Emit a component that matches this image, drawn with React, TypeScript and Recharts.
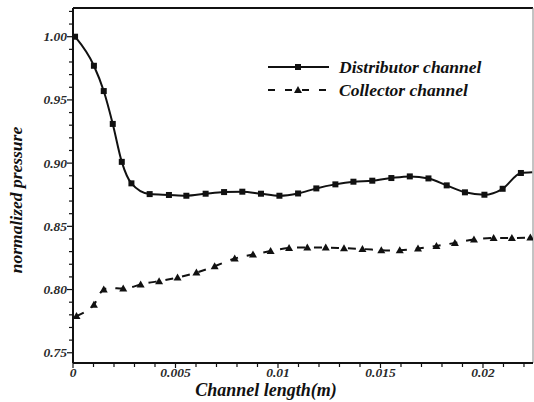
import { LineChart, Line, XAxis, YAxis, Legend, Label, ReferenceLine } from "recharts"

// channel position (m) and normalized pressure along each channel
const distributorX = [
  0.0001, 0.00102, 0.0015, 0.00194, 0.00238, 0.00285, 0.00374, 0.00468, 0.00553,
  0.00647, 0.00737, 0.00826, 0.00917, 0.01007, 0.01098, 0.01187, 0.0128, 0.01368,
  0.0146, 0.01553, 0.01643, 0.01734, 0.01823, 0.01912, 0.02007, 0.02096, 0.02185, 0.0224,
]
const distributorP = [
  1.0, 0.977, 0.957, 0.931, 0.901, 0.884, 0.8755, 0.8748, 0.8742,
  0.8758, 0.8771, 0.8774, 0.8758, 0.8742, 0.876, 0.88, 0.8832, 0.8853,
  0.8861, 0.8882, 0.8895, 0.8879, 0.8824, 0.8769, 0.875, 0.8797, 0.8922, 0.8928,
]
const collectorX = [
  0.00017, 0.00102, 0.0015, 0.00245, 0.0033, 0.0042, 0.0051, 0.00602, 0.00691,
  0.00789, 0.00878, 0.00964, 0.01054, 0.01143, 0.01233, 0.01322, 0.01412, 0.01504,
  0.01594, 0.01683, 0.01773, 0.01863, 0.01956, 0.02052, 0.02141, 0.02231,
]
const collectorP = [
  0.779, 0.788, 0.8, 0.8008, 0.804, 0.8066, 0.8095, 0.8134, 0.8184,
  0.8245, 0.8277, 0.8305, 0.8329, 0.8332, 0.8332, 0.8327, 0.8321, 0.8311,
  0.8311, 0.8324, 0.8345, 0.8369, 0.8396, 0.8408, 0.8408, 0.8411,
]

const xTicks = [
  0, 0.001, 0.002, 0.003, 0.004, 0.005, 0.006, 0.007, 0.008, 0.009, 0.01, 0.011,
  0.012, 0.013, 0.014, 0.015, 0.016, 0.017, 0.018, 0.019, 0.02, 0.021, 0.022,
]
const xLabels = ["0", "0.005", "0.01", "0.015", "0.02"]
const yTicks = [
  0.75, 0.76, 0.77, 0.78, 0.79, 0.8, 0.81, 0.82, 0.83, 0.84, 0.85, 0.86, 0.87, 0.88,
  0.89, 0.9, 0.91, 0.92, 0.93, 0.94, 0.95, 0.96, 0.97, 0.98, 0.99, 1.0, 1.01, 1.02,
]
const yLabels = ["0.75", "0.80", "0.85", "0.90", "0.95", "1.00"]

const distributor = distributorX.map((x, i) => ({ x, p: distributorP[i] }))
const collector = collectorX.map((x, i) => ({ x, p: collectorP[i] }))

const W = 534
const H = 402
const LEFT = 73
const BOTTOM = 363
const X_MAX = 0.02244
const Y_MIN = 0.7419
const Y_MAX = 1.0227
const FONT = '"Liberation Serif", "DejaVu Serif", serif'
const INK = "#111"

const labelFor = (v: number, labels: string[]) =>
  labels.find((l) => Math.abs(parseFloat(l) - v) < 1e-9)

function YTick({ y, payload }: any) {
  const text = labelFor(payload.value, yLabels)
  return (
    <g>
      <line x1={LEFT - (text ? 6 : 4)} x2={LEFT} y1={y} y2={y} stroke={INK} strokeWidth={1.2} />
      {text && (
        <text x={LEFT - 6} y={y} dy={4.5} textAnchor="end" fontFamily={FONT}
          fontStyle="italic" fontWeight="bold" fontSize={13.5} fill="#2a2a2a">
          {text}
        </text>
      )}
    </g>
  )
}

function XTick({ x, payload }: any) {
  const text = labelFor(payload.value, xLabels)
  return (
    <g>
      <line x1={x} x2={x} y1={BOTTOM} y2={BOTTOM + (text ? 5 : 4)} stroke={INK} strokeWidth={1.2} />
      {text && (
        <text x={x} y={BOTTOM + 14} textAnchor="middle" fontFamily={FONT}
          fontStyle="italic" fontWeight="bold" fontSize={13.5} fill="#2a2a2a">
          {text}
        </text>
      )}
    </g>
  )
}

function Square({ cx, cy, size = 6 }: { cx: number; cy: number; size?: number }) {
  return <rect x={cx - size / 2} y={cy - size / 2} width={size} height={size} fill={INK} />
}

function Triangle({ cx, cy }: { cx: number; cy: number }) {
  return <polygon points={`${cx - 4},${cy + 3} ${cx + 4},${cy + 3} ${cx},${cy - 4}`} fill={INK} />
}

// last distributor entry only continues the curve to the frame, no marker
const distributorDot = (props: any) => {
  const { cx, cy, index } = props
  if (index === distributor.length - 1) return <g key={`sq-${index}`} />
  return <Square key={`sq-${index}`} cx={cx} cy={cy} />
}

const collectorDot = (props: any) => {
  const { cx, cy, index } = props
  return <Triangle key={`tr-${index}`} cx={cx} cy={cy} />
}

function LegendBox() {
  const textProps = {
    fontFamily: FONT,
    fontStyle: "italic" as const,
    fontWeight: "bold" as const,
    fontSize: 17.5,
    fill: INK,
  }
  return (
    <svg width={230} height={44} style={{ overflow: "visible" }}>
      <line x1={0} x2={61} y1={10} y2={10} stroke={INK} strokeWidth={2} />
      <Square cx={30} cy={10} />
      <text x={71} y={16} {...textProps}>Distributor channel</text>
      <line x1={0} x2={61} y1={33} y2={33} stroke={INK} strokeWidth={2} strokeDasharray="7 10" />
      <Triangle cx={30} cy={33} />
      <text x={71} y={39} {...textProps}>Collector channel</text>
    </svg>
  )
}

export default function App() {
  return (
    <div style={{ position: "absolute", left: 0, top: 0, width: W, height: H, background: "#fff" }}>
      <LineChart width={W} height={H} margin={{ top: 8, right: 1, bottom: 0, left: 0 }}>
        <XAxis
          dataKey="x"
          type="number"
          domain={[0, X_MAX]}
          allowDataOverflow
          ticks={xTicks}
          interval={0}
          tick={<XTick />}
          tickLine={false}
          axisLine={{ stroke: INK, strokeWidth: 2 }}
          height={39}
        >
          <Label
            content={() => (
              <text x={266} y={396} textAnchor="middle" fontFamily={FONT} fontStyle="italic"
                fontWeight="bold" fontSize={18} fill={INK}>
                Channel length(m)
              </text>
            )}
          />
        </XAxis>
        <YAxis
          dataKey="p"
          type="number"
          domain={[Y_MIN, Y_MAX]}
          allowDataOverflow
          ticks={yTicks}
          interval={0}
          tick={<YTick />}
          tickLine={false}
          axisLine={{ stroke: INK, strokeWidth: 2 }}
          width={73}
        >
          <Label
            content={() => (
              <text x={22} y={200} transform="rotate(-90 22 200)" textAnchor="middle"
                fontFamily={FONT} fontStyle="italic" fontWeight="bold" fontSize={17.5} fill={INK}>
                normalized pressure
              </text>
            )}
          />
        </YAxis>
        {/* frame: top and right edges */}
        <ReferenceLine y={Y_MAX} ifOverflow="visible" stroke={INK} strokeWidth={2} />
        <ReferenceLine x={X_MAX} ifOverflow="visible" stroke="#888" strokeWidth={1} />
        <Legend
          layout="vertical"
          align="center"
          verticalAlign="middle"
          content={() => <LegendBox />}
          wrapperStyle={{ left: 268, top: 57, width: 230, height: 44 }}
        />
        <Line
          data={distributor}
          dataKey="p"
          type="monotone"
          stroke={INK}
          strokeWidth={2}
          dot={distributorDot}
          activeDot={false}
          isAnimationActive={false}
          legendType="none"
        />
        <Line
          data={collector}
          dataKey="p"
          type="natural"
          stroke={INK}
          strokeWidth={2}
          strokeDasharray="8 9"
          dot={collectorDot}
          activeDot={false}
          isAnimationActive={false}
          legendType="none"
        />
      </LineChart>
    </div>
  )
}
